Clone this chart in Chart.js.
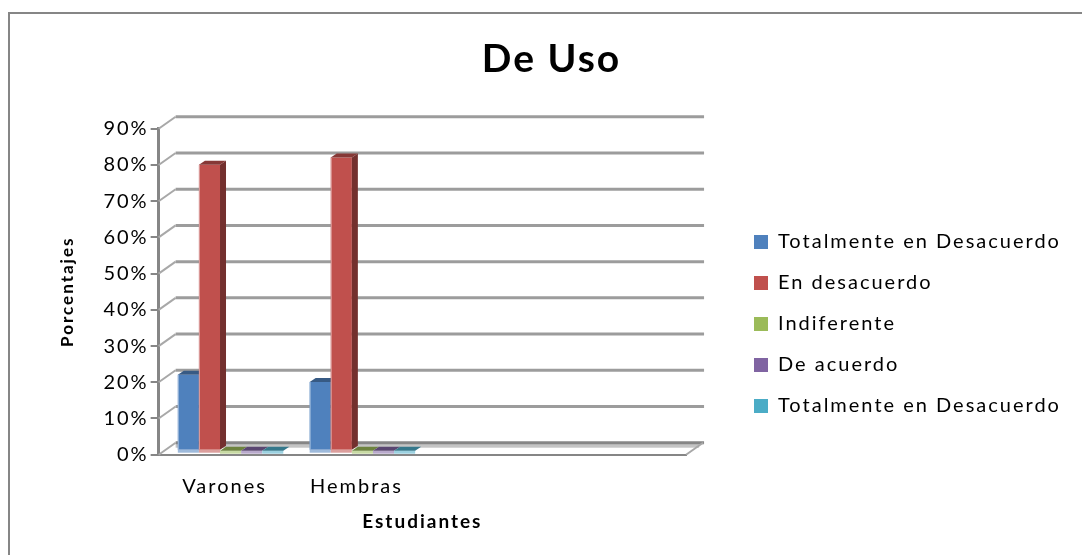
<!DOCTYPE html>
<html>
<head>
<meta charset="utf-8">
<style>
  html, body { margin: 0; padding: 0; background: #fff; }
  #wrap { position: absolute; left: 0; top: 0; width: 1082px; height: 555px; }
</style>
<script src="https://cdn.jsdelivr.net/npm/chart.js@4/dist/chart.umd.min.js"></script>
</head>
<body>
<div id="wrap"><canvas id="c" width="1082" height="555"></canvas></div>
<script>
const categories = ['Varones', 'Hembras', '', ''];
const totalmente = [21, 19, 0, 0];
const enDesacuerdo = [79, 81, 0, 0];
const indiferente = [0, 0, 0, 0];
const deAcuerdo = [0, 0, 0, 0];
const totalmente2 = [0, 0, 0, 0];
const yTicks = [0, 10, 20, 30, 40, 50, 60, 70, 80, 90];

const fontName = 'Lato, sans-serif';
const axisGrey = '#868686';

// 3d look of the old office chart: depth of wall and of the bars
const wallDx = 17, wallDy = -12;
const barDx = 6, barDy = -4;

function shade(hex, f) {
    const n = parseInt(hex.slice(1), 16);
    const ch = [n >> 16, (n >> 8) & 255, n & 255].map(v => {
        return Math.round(f < 0 ? v * (1 + f) : v + (255 - v) * f);
    });
    return `rgb(${ch[0]},${ch[1]},${ch[2]})`;
}

const walls = {
    id: 'walls',
    beforeUpdate(chart) {
        chart.ctx.letterSpacing = '2px';
    },
    afterLayout(chart) {
        // legend sits away from the plot, title is centred off the plot
        const lg = chart.legend;
        const h = lg.height;
        lg.left = 733; lg.right = 1082;
        lg.top = 324 - h / 2; lg.bottom = lg.top + h;
        chart.titleBlock.left += 11;
        chart.titleBlock.right += 11;
    },
    beforeDraw(chart) {
        const ctx = chart.ctx;
        ctx.letterSpacing = '2px';
        ctx.save();
        ctx.fillStyle = '#fff';
        ctx.fillRect(0, 0, chart.width, chart.height);
        ctx.fillStyle = axisGrey;
        ctx.fillRect(8, 12, 2, 543);
        ctx.fillRect(8, 12, 1074, 2);
        ctx.restore();
    },
    beforeDatasetsDraw(chart) {
        const ctx = chart.ctx, y = chart.scales.y, a = chart.chartArea;
        ctx.save();
        // floor band
        ctx.fillStyle = '#c4c4c4';
        ctx.fillRect(a.left + wallDx, y.getPixelForValue(0) + wallDy, a.right - a.left - 4, 5);
        yTicks.forEach(v => {
            const py = y.getPixelForValue(v);
            ctx.strokeStyle = v === 0 ? axisGrey : '#9c9c9c';
            ctx.lineWidth = 3;
            ctx.beginPath();
            ctx.moveTo(a.left + wallDx, py + wallDy);
            ctx.lineTo(a.right + wallDx + 1, py + wallDy);
            ctx.stroke();
            ctx.strokeStyle = '#a8a8a8';
            ctx.lineWidth = 2;
            ctx.beginPath();
            ctx.moveTo(a.left, py);
            ctx.lineTo(a.left + wallDx, py + wallDy);
            ctx.stroke();
        });
        // right end of the floor
        const p0 = y.getPixelForValue(0);
        ctx.strokeStyle = '#a8a8a8';
        ctx.beginPath();
        ctx.moveTo(a.right, p0);
        ctx.lineTo(a.right + wallDx, p0 + wallDy);
        ctx.stroke();
        ctx.restore();
    },
    beforeDatasetDraw() {
        // bars are painted in afterDatasetsDraw, shifted into the depth
        return false;
    },
    afterDatasetsDraw(chart) {
        const ctx = chart.ctx;
        // chart.js paints last dataset first, here the next bar must cover the side of the one before
        ctx.save();
        ctx.translate(barDx, barDy);
        chart.data.datasets.forEach((ds, index) => {
            const col = ds.backgroundColor;
            chart.getDatasetMeta(index).data.forEach((el, i) => {
                // only the two real clusters have bars
                if (i > 1) return;
                const p = el.getProps(['x', 'y', 'base', 'width'], true);
                const l = p.x - p.width / 2, r = p.x + p.width / 2;
                el.draw(ctx);
                ctx.fillStyle = shade(col, 0.45);
                ctx.fillRect(l, p.base, p.width, 3);
                if (p.base > p.y) ctx.fillRect(l, p.y, 1, p.base - p.y);
                ctx.fillStyle = shade(col, -0.3);
                ctx.beginPath();
                ctx.moveTo(l, p.y);
                ctx.lineTo(l + barDx, p.y + barDy);
                ctx.lineTo(r + barDx, p.y + barDy);
                ctx.lineTo(r, p.y);
                ctx.closePath();
                ctx.fill();
                ctx.fillStyle = shade(col, -0.4);
                ctx.beginPath();
                ctx.moveTo(r, p.y);
                ctx.lineTo(r + barDx, p.y + barDy);
                ctx.lineTo(r + barDx, p.base + barDy);
                ctx.lineTo(r, p.base);
                ctx.closePath();
                ctx.fill();
            });
        });
        ctx.restore();
    }
};

function series(label, data, color) {
    return { label, data, backgroundColor: color, borderWidth: 0, clip: false };
}

new Chart(document.getElementById('c'), {
    type: 'bar',
    data: {
        labels: categories,
        datasets: [
            series('Totalmente en Desacuerdo', totalmente, '#4F81BD'),
            series('En desacuerdo', enDesacuerdo, '#C0504D'),
            series('Indiferente', indiferente, '#9BBB59'),
            series('De acuerdo', deAcuerdo, '#8064A2'),
            series('Totalmente en Desacuerdo', totalmente2, '#4BACC6')
        ]
    },
    plugins: [walls],
    options: {
        responsive: false,
        animation: false,
        layout: { padding: { left: 57, right: 58, top: 36, bottom: 21.5 } },
        datasets: { bar: { categoryPercentage: 0.8, barPercentage: 1 } },
        scales: {
            x: {
                grid: { display: false },
                border: { color: axisGrey, width: 2 },
                ticks: { color: '#000', font: { family: fontName, size: 20 }, padding: 12, maxRotation: 0 },
                title: {
                    display: true, text: 'Estudiantes', color: '#000',
                    font: { family: fontName, size: 19, weight: 'bold' },
                    padding: { top: 0, bottom: 0 }
                }
            },
            y: {
                min: 0,
                max: 90,
                grid: { drawOnChartArea: false, drawTicks: true, tickLength: 8, color: axisGrey, lineWidth: 2 },
                border: { color: axisGrey, width: 3 },
                ticks: {
                    stepSize: 10, color: '#000', padding: 2,
                    font: { family: fontName, size: 20 },
                    callback: v => v + '%'
                },
                title: {
                    display: true, text: 'Porcentajes', color: '#000',
                    font: { family: fontName, size: 17, weight: 'bold' },
                    padding: { top: 0, bottom: 24 }
                }
            }
        },
        plugins: {
            tooltip: { enabled: false },
            title: {
                display: true, text: 'De Uso', color: '#000',
                font: { family: fontName, size: 39, weight: 'bold' },
                padding: { top: 0, bottom: 46 }
            },
            legend: {
                position: 'right',
                maxWidth: 400,
                labels: {
                    color: '#000', boxWidth: 14, boxHeight: 14, padding: 21,
                    font: { family: fontName, size: 20 }
                }
            }
        }
    }
});
</script>
</body>
</html>
